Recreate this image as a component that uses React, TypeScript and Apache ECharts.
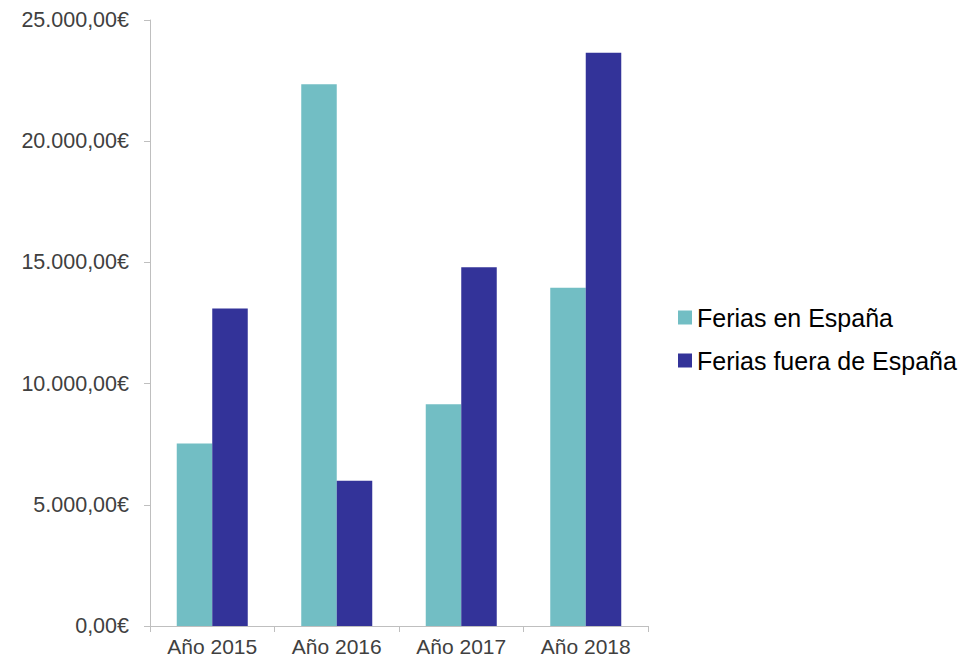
import React, { useEffect, useRef } from "react";
import * as echarts from "echarts";

const categories = ["Año 2015", "Año 2016", "Año 2017", "Año 2018"];
const seriesNames = ["Ferias en España", "Ferias fuera de España"];
const feriasEspana = [7530, 22350, 9150, 13950];
const feriasFuera = [13100, 5990, 14800, 23650];
const yTicks = { min: 0, max: 25000, interval: 5000 };

function formatEuro(v: number): string {
  const fixed = v.toFixed(2);
  const [intPart, dec] = fixed.split(".");
  const grouped = intPart.replace(/\B(?=(\d{3})+(?!\d))/g, ".");
  return grouped + "," + dec + "€";
}

export default function App() {
  const ref = useRef<HTMLDivElement>(null);
  useEffect(() => {
    document.body.style.margin = "0";
    if (!ref.current) return;
    const chart = echarts.init(ref.current, undefined, { renderer: "svg" });
    const font = "'Liberation Sans', Arial, sans-serif";
    chart.setOption({
      animation: false,
      backgroundColor: "#ffffff",
      grid: { left: 150, right: 324, top: 20, bottom: 40, containLabel: false },
      legend: {
        orient: "vertical",
        left: 678,
        top: 305,
        padding: 0,
        itemWidth: 14,
        itemHeight: 14,
        itemGap: 18,
        itemTextGap: 5,
        icon: "rect",
        textStyle: { fontFamily: font, fontSize: 25, color: "#000000", lineHeight: 25 },
        data: seriesNames,
      },
      xAxis: {
        type: "category",
        data: categories,
        axisLine: { lineStyle: { color: "#bfbfbf", width: 1 } },
        axisTick: { show: true, length: 6, lineStyle: { color: "#bfbfbf" }, alignWithLabel: false },
        axisLabel: { fontFamily: font, fontSize: 21, color: "#404040", margin: 10 },
        splitLine: { show: false },
      },
      yAxis: {
        type: "value",
        min: yTicks.min,
        max: yTicks.max,
        interval: yTicks.interval,
        axisLine: { show: true, lineStyle: { color: "#bfbfbf", width: 1 } },
        axisTick: { show: true, length: 6, lineStyle: { color: "#bfbfbf" } },
        axisLabel: { fontFamily: font, fontSize: 21.5, color: "#404040", margin: 21, formatter: (v: number) => formatEuro(v) },
        splitLine: { show: false },
      },
      series: [
        {
          name: seriesNames[0],
          type: "bar",
          data: feriasEspana,
          barWidth: 35.5,
          barGap: "0%",
          itemStyle: { color: "#72bec4" },
        },
        {
          name: seriesNames[1],
          type: "bar",
          data: feriasFuera,
          barWidth: 35.5,
          barGap: "0%",
          itemStyle: { color: "#333399" },
        },
      ],
    });
    return () => chart.dispose();
  }, []);
  return <div ref={ref} style={{ width: 972, height: 666 }} />;
}
